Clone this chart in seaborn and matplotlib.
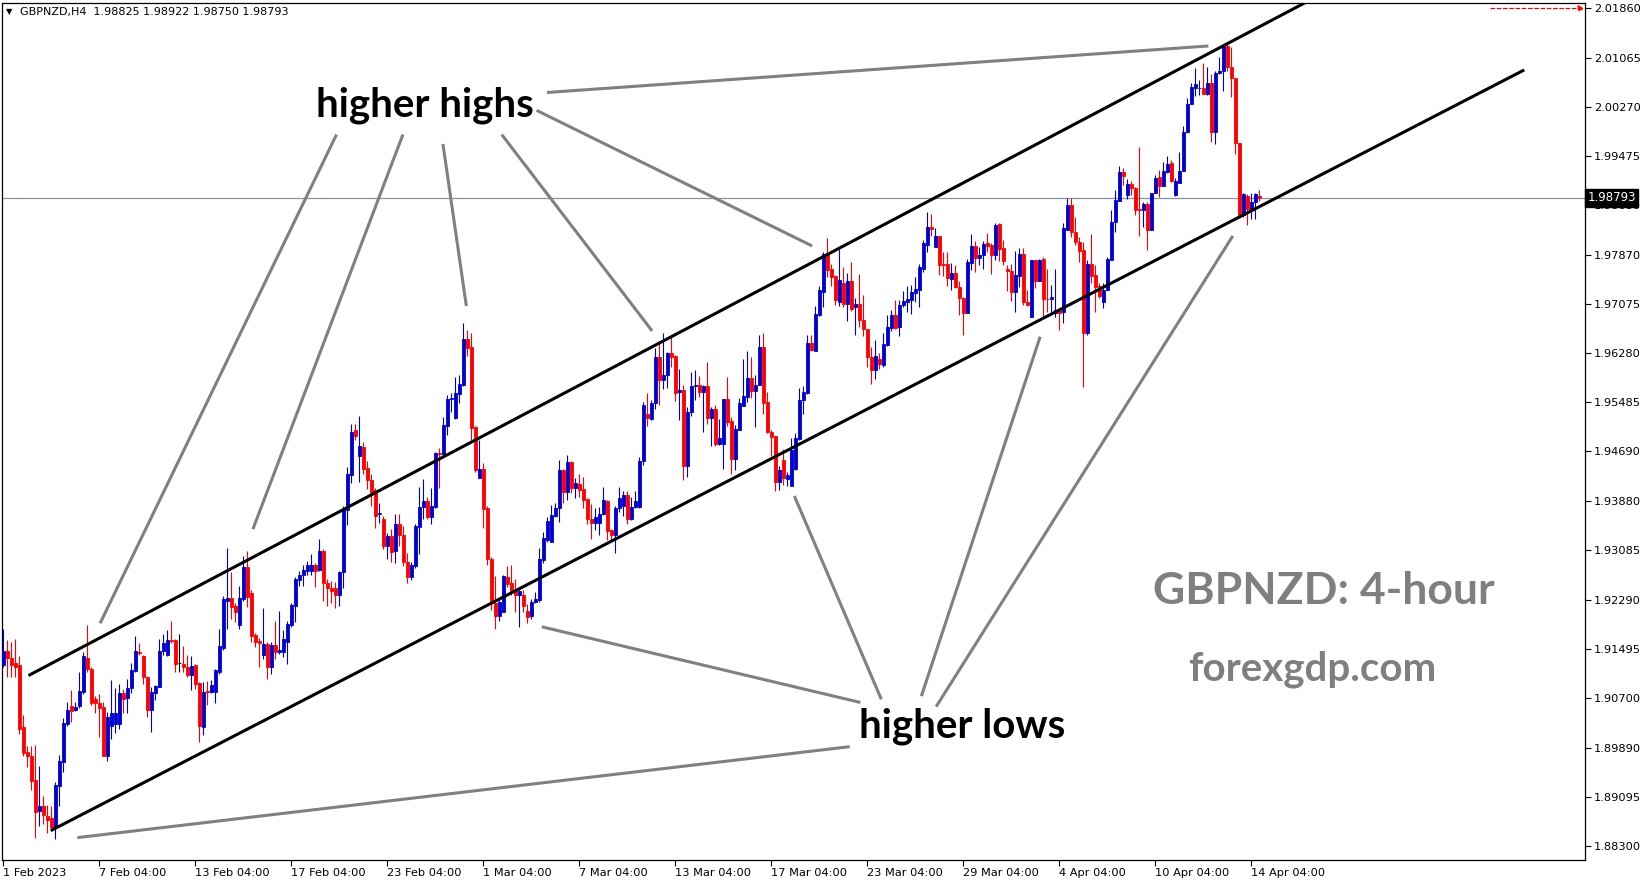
import numpy as np
import pandas as pd
import seaborn as sns
import matplotlib
matplotlib.use("Agg")
import matplotlib.pyplot as plt
import matplotlib.transforms as mtransforms

# ---------- GBPNZD H4 candles (1 Feb 2023 -> 14 Apr 2023) ----------
opens = [
    1.9123, 1.9145, 1.9134, 1.9127, 1.9123, 1.9022, 1.8982, 1.8976, 1.8937, 1.8887,
    1.8895, 1.8878, 1.8875, 1.8861, 1.8927, 1.8966, 1.9027, 1.9057, 1.9050, 1.9056,
    1.9079, 1.9135, 1.9117, 1.9068, 1.9061, 1.9055, 1.8975, 1.9025, 1.9028, 1.9027,
    1.9078, 1.9070, 1.9085, 1.9114, 1.9144, 1.9138, 1.9104, 1.9050, 1.9078, 1.9088,
    1.9145, 1.9139, 1.9164, 1.9163, 1.9126, 1.9125, 1.9120, 1.9107, 1.9123, 1.9094,
    1.9023, 1.9081, 1.9079, 1.9080, 1.9112, 1.9150, 1.9227, 1.9231, 1.9219, 1.9188,
    1.9230, 1.9282, 1.9240, 1.9171, 1.9162, 1.9140, 1.9157, 1.9119, 1.9155, 1.9144,
    1.9144, 1.9161, 1.9188, 1.9218, 1.9261, 1.9268, 1.9276, 1.9276, 1.9285, 1.9277,
    1.9308, 1.9256, 1.9248, 1.9248, 1.9237, 1.9273, 1.9374, 1.9431, 1.9504, 1.9462,
    1.9476, 1.9442, 1.9423, 1.9406, 1.9368, 1.9359, 1.9316, 1.9332, 1.9308, 1.9352,
    1.9334, 1.9289, 1.9266, 1.9284, 1.9347, 1.9379, 1.9389, 1.9362, 1.9379, 1.9466,
    1.9465, 1.9510, 1.9554, 1.9523, 1.9562, 1.9576, 1.9651, 1.9638, 1.9509, 1.9425,
    1.9440, 1.9378, 1.9295, 1.9223, 1.9203, 1.9209, 1.9266, 1.9255, 1.9243, 1.9236,
    1.9236, 1.9210, 1.9202, 1.9225, 1.9228, 1.9293, 1.9325, 1.9322, 1.9365, 1.9377,
    1.9439, 1.9403, 1.9452, 1.9409, 1.9416, 1.9408, 1.9392, 1.9359, 1.9353, 1.9353,
    1.9367, 1.9389, 1.9341, 1.9333, 1.9377, 1.9381, 1.9399, 1.9359, 1.9379, 1.9379,
    1.9454, 1.9529, 1.9522, 1.9547, 1.9622, 1.9584, 1.9592, 1.9628, 1.9623, 1.9565,
    1.9569, 1.9446, 1.9532, 1.9575, 1.9576, 1.9565, 1.9575, 1.9523, 1.9538, 1.9481,
    1.9481, 1.9554, 1.9518, 1.9457, 1.9503, 1.9543, 1.9557, 1.9588, 1.9567, 1.9576,
    1.9638, 1.9549, 1.9500, 1.9493, 1.9420, 1.9455, 1.9424, 1.9413, 1.9440, 1.9489,
    1.9552, 1.9563, 1.9645, 1.9632, 1.9690, 1.9727, 1.9788, 1.9764, 1.9753, 1.9711,
    1.9741, 1.9707, 1.9745, 1.9702, 1.9708, 1.9682, 1.9667, 1.9622, 1.9601, 1.9618,
    1.9608, 1.9641, 1.9669, 1.9690, 1.9671, 1.9706, 1.9711, 1.9714, 1.9726, 1.9730,
    1.9765, 1.9803, 1.9833, 1.9800, 1.9817, 1.9772, 1.9772, 1.9748, 1.9758, 1.9735,
    1.9718, 1.9693, 1.9774, 1.9802, 1.9782, 1.9787, 1.9807, 1.9803, 1.9787, 1.9837,
    1.9798, 1.9765, 1.9761, 1.9727, 1.9753, 1.9788, 1.9710, 1.9687, 1.9778, 1.9744,
    1.9780, 1.9716, 1.9715, 1.9693, 1.9698, 1.9695, 1.9828, 1.9868, 1.9824, 1.9808,
    1.9795, 1.9661, 1.9773, 1.9754, 1.9736, 1.9711, 1.9730, 1.9779, 1.9841, 1.9875,
    1.9922, 1.9884, 1.9902, 1.9895, 1.9862, 1.9860, 1.9869, 1.9827, 1.9887, 1.9913,
    1.9899, 1.9922, 1.9936, 1.9884, 1.9903, 1.9923, 1.9986, 2.0032, 2.0058, 2.0057,
    2.0058, 2.0047, 2.0065, 1.9986, 2.0081, 2.0084, 2.0125, 2.0092, 2.0073, 1.9969,
    1.9852, 1.9883, 1.9862, 1.9873, 1.98825,
]
highs = [
    1.9181, 1.9164, 1.9161, 1.9165, 1.9137, 1.9042, 1.8992, 1.8992, 1.8993, 1.8959,
    1.8911, 1.8897, 1.8895, 1.8934, 1.8978, 1.9038, 1.9063, 1.9083, 1.9063, 1.9112,
    1.9144, 1.9187, 1.9120, 1.9073, 1.9076, 1.9063, 1.9047, 1.9098, 1.9085, 1.9093,
    1.9084, 1.9100, 1.9126, 1.9170, 1.9159, 1.9139, 1.9106, 1.9088, 1.9091, 1.9165,
    1.9173, 1.9179, 1.9195, 1.9165, 1.9173, 1.9154, 1.9139, 1.9138, 1.9124, 1.9096,
    1.9096, 1.9097, 1.9099, 1.9117, 1.9182, 1.9234, 1.9313, 1.9274, 1.9223, 1.9251,
    1.9300, 1.9308, 1.9245, 1.9175, 1.9167, 1.9216, 1.9160, 1.9160, 1.9194, 1.9210,
    1.9180, 1.9195, 1.9224, 1.9266, 1.9275, 1.9285, 1.9291, 1.9302, 1.9288, 1.9327,
    1.9311, 1.9263, 1.9259, 1.9258, 1.9275, 1.9380, 1.9443, 1.9514, 1.9513, 1.9526,
    1.9484, 1.9454, 1.9432, 1.9410, 1.9385, 1.9364, 1.9337, 1.9343, 1.9368, 1.9368,
    1.9348, 1.9304, 1.9289, 1.9352, 1.9411, 1.9424, 1.9395, 1.9409, 1.9468, 1.9474,
    1.9525, 1.9560, 1.9563, 1.9589, 1.9593, 1.9677, 1.9666, 1.9661, 1.9510, 1.9487,
    1.9450, 1.9381, 1.9298, 1.9267, 1.9232, 1.9269, 1.9284, 1.9285, 1.9262, 1.9245,
    1.9245, 1.9221, 1.9230, 1.9241, 1.9313, 1.9338, 1.9363, 1.9382, 1.9386, 1.9455,
    1.9441, 1.9463, 1.9453, 1.9426, 1.9432, 1.9428, 1.9394, 1.9384, 1.9378, 1.9379,
    1.9411, 1.9390, 1.9344, 1.9380, 1.9411, 1.9404, 1.9405, 1.9395, 1.9404, 1.9459,
    1.9549, 1.9564, 1.9552, 1.9637, 1.9647, 1.9661, 1.9630, 1.9657, 1.9625, 1.9602,
    1.9577, 1.9541, 1.9597, 1.9601, 1.9591, 1.9577, 1.9613, 1.9541, 1.9544, 1.9521,
    1.9554, 1.9590, 1.9525, 1.9511, 1.9555, 1.9618, 1.9631, 1.9622, 1.9592, 1.9657,
    1.9660, 1.9565, 1.9503, 1.9494, 1.9445, 1.9472, 1.9435, 1.9491, 1.9498, 1.9571,
    1.9575, 1.9657, 1.9657, 1.9705, 1.9736, 1.9791, 1.9815, 1.9773, 1.9755, 1.9796,
    1.9768, 1.9757, 1.9775, 1.9717, 1.9756, 1.9722, 1.9667, 1.9638, 1.9650, 1.9628,
    1.9661, 1.9690, 1.9698, 1.9714, 1.9714, 1.9729, 1.9736, 1.9738, 1.9751, 1.9772,
    1.9811, 1.9856, 1.9853, 1.9830, 1.9818, 1.9792, 1.9791, 1.9774, 1.9771, 1.9744,
    1.9719, 1.9780, 1.9821, 1.9810, 1.9800, 1.9810, 1.9823, 1.9807, 1.9839, 1.9839,
    1.9811, 1.9771, 1.9773, 1.9794, 1.9798, 1.9798, 1.9730, 1.9779, 1.9779, 1.9781,
    1.9783, 1.9765, 1.9739, 1.9764, 1.9700, 1.9838, 1.9879, 1.9879, 1.9848, 1.9816,
    1.9808, 1.9778, 1.9821, 1.9771, 1.9741, 1.9741, 1.9784, 1.9860, 1.9892, 1.9931,
    1.9927, 1.9910, 1.9906, 1.9897, 1.9962, 1.9872, 1.9873, 1.9888, 1.9916, 1.9924,
    1.9938, 1.9947, 1.9940, 1.9911, 1.9954, 1.9995, 2.0041, 2.0065, 2.0089, 2.0070,
    2.0097, 2.0092, 2.0080, 2.0084, 2.0108, 2.0127, 2.0129, 2.0123, 2.0074, 1.9969,
    1.9888, 1.9886, 1.9887, 1.9888, 1.98922,
]
lows = [
    1.9119, 1.9104, 1.9103, 1.9104, 1.9012, 1.8975, 1.8958, 1.8921, 1.8843, 1.8863,
    1.8865, 1.8851, 1.8856, 1.8841, 1.8895, 1.8949, 1.9025, 1.9031, 1.9049, 1.9053,
    1.9076, 1.9111, 1.9058, 1.9046, 1.9007, 1.8975, 1.8968, 1.9003, 1.9013, 1.9020,
    1.9046, 1.9046, 1.9078, 1.9111, 1.9139, 1.9092, 1.9039, 1.9015, 1.9066, 1.9088,
    1.9139, 1.9137, 1.9158, 1.9111, 1.9111, 1.9112, 1.9103, 1.9083, 1.9084, 1.8999,
    1.9009, 1.9058, 1.9077, 1.9061, 1.9109, 1.9147, 1.9181, 1.9197, 1.9192, 1.9182,
    1.9227, 1.9217, 1.9160, 1.9152, 1.9120, 1.9132, 1.9101, 1.9108, 1.9133, 1.9141,
    1.9136, 1.9125, 1.9185, 1.9192, 1.9251, 1.9251, 1.9269, 1.9269, 1.9250, 1.9276,
    1.9227, 1.9219, 1.9223, 1.9216, 1.9219, 1.9247, 1.9350, 1.9417, 1.9487, 1.9420,
    1.9433, 1.9408, 1.9381, 1.9345, 1.9353, 1.9311, 1.9295, 1.9289, 1.9288, 1.9316,
    1.9284, 1.9256, 1.9261, 1.9280, 1.9303, 1.9359, 1.9360, 1.9352, 1.9378, 1.9409,
    1.9460, 1.9495, 1.9532, 1.9522, 1.9547, 1.9575, 1.9624, 1.9487, 1.9436, 1.9425,
    1.9345, 1.9285, 1.9212, 1.9181, 1.9195, 1.9209, 1.9250, 1.9236, 1.9209, 1.9185,
    1.9209, 1.9191, 1.9197, 1.9223, 1.9225, 1.9288, 1.9322, 1.9322, 1.9363, 1.9355,
    1.9386, 1.9390, 1.9401, 1.9393, 1.9395, 1.9378, 1.9351, 1.9327, 1.9341, 1.9333,
    1.9366, 1.9325, 1.9324, 1.9305, 1.9370, 1.9364, 1.9352, 1.9358, 1.9377, 1.9377,
    1.9447, 1.9510, 1.9520, 1.9537, 1.9544, 1.9570, 1.9571, 1.9606, 1.9550, 1.9520,
    1.9423, 1.9428, 1.9527, 1.9552, 1.9557, 1.9500, 1.9513, 1.9478, 1.9478, 1.9479,
    1.9441, 1.9510, 1.9433, 1.9439, 1.9503, 1.9543, 1.9549, 1.9556, 1.9509, 1.9576,
    1.9530, 1.9498, 1.9462, 1.9405, 1.9407, 1.9414, 1.9413, 1.9413, 1.9439, 1.9487,
    1.9530, 1.9562, 1.9632, 1.9632, 1.9688, 1.9703, 1.9752, 1.9737, 1.9706, 1.9705,
    1.9703, 1.9680, 1.9696, 1.9657, 1.9671, 1.9656, 1.9606, 1.9578, 1.9586, 1.9603,
    1.9606, 1.9640, 1.9664, 1.9667, 1.9655, 1.9703, 1.9695, 1.9691, 1.9710, 1.9703,
    1.9760, 1.9792, 1.9818, 1.9800, 1.9754, 1.9753, 1.9736, 1.9731, 1.9733, 1.9690,
    1.9657, 1.9693, 1.9763, 1.9760, 1.9771, 1.9764, 1.9792, 1.9756, 1.9779, 1.9777,
    1.9771, 1.9729, 1.9713, 1.9695, 1.9735, 1.9706, 1.9704, 1.9687, 1.9733, 1.9744,
    1.9687, 1.9695, 1.9695, 1.9687, 1.9665, 1.9677, 1.9827, 1.9816, 1.9803, 1.9776,
    1.9573, 1.9657, 1.9741, 1.9695, 1.9717, 1.9701, 1.9730, 1.9779, 1.9824, 1.9875,
    1.9900, 1.9878, 1.9884, 1.9852, 1.9818, 1.9833, 1.9795, 1.9827, 1.9887, 1.9881,
    1.9898, 1.9919, 1.9905, 1.9883, 1.9903, 1.9923, 1.9984, 2.0031, 2.0044, 2.0046,
    2.0047, 2.0046, 1.9970, 1.9966, 2.0080, 2.0052, 2.0084, 2.0043, 1.9951, 1.9850,
    1.9849, 1.9836, 1.9845, 1.9845, 1.98750,
]
closes = [
    1.9145, 1.9134, 1.9123, 1.9120, 1.9019, 1.8981, 1.8975, 1.8936, 1.8885, 1.8894,
    1.8880, 1.8872, 1.8860, 1.8929, 1.8968, 1.9029, 1.9050, 1.9049, 1.9055, 1.9081,
    1.9138, 1.9117, 1.9061, 1.9061, 1.9054, 1.8975, 1.9039, 1.9045, 1.9045, 1.9077,
    1.9068, 1.9086, 1.9115, 1.9146, 1.9143, 1.9103, 1.9050, 1.9079, 1.9089, 1.9146,
    1.9159, 1.9164, 1.9162, 1.9125, 1.9126, 1.9119, 1.9107, 1.9121, 1.9092, 1.9025,
    1.9080, 1.9080, 1.9090, 1.9115, 1.9153, 1.9230, 1.9231, 1.9217, 1.9209, 1.9231,
    1.9282, 1.9233, 1.9170, 1.9160, 1.9159, 1.9157, 1.9119, 1.9155, 1.9144, 1.9147,
    1.9165, 1.9189, 1.9220, 1.9262, 1.9269, 1.9277, 1.9285, 1.9285, 1.9276, 1.9308,
    1.9255, 1.9247, 1.9243, 1.9237, 1.9274, 1.9374, 1.9432, 1.9501, 1.9493, 1.9478,
    1.9440, 1.9422, 1.9401, 1.9364, 1.9369, 1.9316, 1.9332, 1.9306, 1.9352, 1.9334,
    1.9290, 1.9266, 1.9285, 1.9348, 1.9379, 1.9389, 1.9363, 1.9380, 1.9466, 1.9465,
    1.9512, 1.9554, 1.9555, 1.9563, 1.9578, 1.9651, 1.9637, 1.9507, 1.9438, 1.9440,
    1.9376, 1.9294, 1.9223, 1.9203, 1.9225, 1.9267, 1.9254, 1.9242, 1.9237, 1.9243,
    1.9219, 1.9201, 1.9225, 1.9230, 1.9294, 1.9329, 1.9356, 1.9366, 1.9378, 1.9438,
    1.9403, 1.9451, 1.9409, 1.9418, 1.9407, 1.9390, 1.9359, 1.9353, 1.9362, 1.9367,
    1.9390, 1.9340, 1.9333, 1.9377, 1.9393, 1.9399, 1.9359, 1.9379, 1.9389, 1.9454,
    1.9544, 1.9523, 1.9548, 1.9622, 1.9584, 1.9592, 1.9628, 1.9621, 1.9564, 1.9569,
    1.9446, 1.9533, 1.9574, 1.9576, 1.9565, 1.9575, 1.9523, 1.9538, 1.9481, 1.9490,
    1.9554, 1.9517, 1.9457, 1.9505, 1.9548, 1.9558, 1.9588, 1.9567, 1.9577, 1.9638,
    1.9548, 1.9500, 1.9492, 1.9420, 1.9438, 1.9425, 1.9430, 1.9471, 1.9490, 1.9552,
    1.9565, 1.9645, 1.9633, 1.9691, 1.9730, 1.9789, 1.9763, 1.9752, 1.9714, 1.9746,
    1.9707, 1.9745, 1.9700, 1.9708, 1.9682, 1.9667, 1.9622, 1.9601, 1.9624, 1.9610,
    1.9643, 1.9671, 1.9690, 1.9669, 1.9706, 1.9713, 1.9715, 1.9727, 1.9732, 1.9767,
    1.9807, 1.9833, 1.9829, 1.9817, 1.9771, 1.9771, 1.9749, 1.9758, 1.9735, 1.9717,
    1.9693, 1.9776, 1.9802, 1.9782, 1.9787, 1.9805, 1.9802, 1.9787, 1.9835, 1.9797,
    1.9777, 1.9761, 1.9727, 1.9754, 1.9788, 1.9710, 1.9706, 1.9779, 1.9745, 1.9779,
    1.9715, 1.9715, 1.9719, 1.9698, 1.9693, 1.9830, 1.9868, 1.9824, 1.9808, 1.9794,
    1.9661, 1.9773, 1.9753, 1.9735, 1.9720, 1.9730, 1.9780, 1.9841, 1.9876, 1.9922,
    1.9915, 1.9902, 1.9895, 1.9860, 1.9860, 1.9869, 1.9827, 1.9888, 1.9911, 1.9899,
    1.9923, 1.9935, 1.9907, 1.9907, 1.9923, 1.9986, 2.0032, 2.0059, 2.0064, 2.0058,
    2.0047, 2.0065, 1.9986, 2.0081, 2.0084, 2.0125, 2.0091, 2.0073, 1.9969, 1.9852,
    1.9885, 1.9862, 1.9873, 1.9885, 1.98793,
]

# ---------- axis labels ----------
x_tick_bars = [0, 24, 48, 72, 96, 120, 144, 168, 192, 216, 240, 264, 288, 312]
x_tick_labels = ["1 Feb 2023", "7 Feb 04:00", "13 Feb 04:00", "17 Feb 04:00",
                 "23 Feb 04:00", "1 Mar 04:00", "7 Mar 04:00", "13 Mar 04:00",
                 "17 Mar 04:00", "23 Mar 04:00", "29 Mar 04:00", "4 Apr 04:00",
                 "10 Apr 04:00", "14 Apr 04:00"]
y_tick_labels = ["2.01860", "2.01065", "2.00270", "1.99475", "1.98680", "1.97870",
                 "1.97075", "1.96280", "1.95485", "1.94690", "1.93880", "1.93085",
                 "1.92290", "1.91495", "1.90700", "1.89890", "1.89095", "1.88300"]
last_price = 1.98793
ohlc_title = "GBPNZD,H4  1.98825 1.98922 1.98750 1.98793"

# ---------- drawn objects (bar index, price) ----------
channel_upper = [(6.3, 1.9106), (325.6, 2.0196)]
channel_lower = [(11.85, 1.88548), (380.2, 2.00865)]
highs_pointers = [
    [(83.3, 1.99819), (24.2, 1.91906)],
    [(99.9, 1.99819), (62.4, 1.93430)],
    [(109.9, 1.99666), (115.75, 1.97044)],
    [(124.6, 1.99819), (162.2, 1.96639)],
    [(133.3, 2.00211), (202.2, 1.98015)],
    [(135.9, 2.00500), (301.25, 2.01253)],
]
lows_pointers = [
    [(211.6, 1.89908), (18.5, 1.88435)],
    [(214.25, 1.90624), (134.6, 1.91849)],
    [(219.5, 1.90674), (197.75, 1.93967)],
    [(229.5, 1.90726), (259.2, 1.96546)],
    [(233.2, 1.90556), (307.35, 1.98177)],
]

df = pd.DataFrame({"open": opens, "high": highs, "low": lows, "close": closes})
df["bar"] = np.arange(len(df))
BLUE, RED = "#0000d0", "#ff0000"
df["color"] = np.where(df.close > df.open, BLUE, np.where(df.close < df.open, RED, "black"))

sns.set_theme(style="white")
plt.rcParams["font.family"] = ["DejaVu Sans"]

W, H = 1649, 884
fig = plt.figure(figsize=(W / 100, H / 100), dpi=100)
fig.patch.set_facecolor("white")
ax = fig.add_axes([2.5 / W, 24 / H, 1582.5 / W, 857.5 / H])
ax.set_facecolor("white")

# wicks + bodies
ax.vlines(df.bar, df.low, df.high, colors=df.color, linewidth=0.8, zorder=3)
body_lo = df[["open", "close"]].min(axis=1)
body_h = (df.close - df.open).abs()
ax.bar(df.bar, body_h, bottom=body_lo, width=0.6, color=df.color,
       edgecolor=df.color, linewidth=0.6, zorder=4)

# current price line
ax.axhline(last_price, color="#8592a0", lw=0.9, zorder=2)

# channel
for seg in (channel_upper, channel_lower):
    xs, ys = zip(*seg)
    ax.plot(xs, ys, color="black", lw=2.2, solid_capstyle="butt", zorder=5)

# pointer lines
for seg in highs_pointers + lows_pointers:
    xs, ys = zip(*seg)
    ax.plot(xs, ys, color="#808080", lw=2.2, solid_capstyle="butt", zorder=5)

# annotation texts
txt_font = ["Lato", "DejaVu Sans"]
ax.text(105.4, 2.0029, "higher highs", fontsize=29, fontweight="bold",
        family=txt_font, ha="center", va="center", color="black", zorder=6)
ax.text(239.75, 1.9024, "higher lows", fontsize=29, fontweight="bold",
        family=txt_font, ha="center", va="center", color="black", zorder=6)
ax.text(330.0, 1.9243, "GBPNZD: 4-hour", fontsize=32, fontweight="bold",
        family=txt_font, ha="center", va="center", color="#7f7f7f", zorder=6)
ax.text(327.3, 1.9116, "forexgdp.com", fontsize=29, fontweight="bold",
        family=txt_font, ha="center", va="center", color="#7f7f7f", zorder=6)

# red dashed arrow at the top level
ax.annotate("", xy=(395.3, 2.0186), xytext=(371.9, 2.0186),
            arrowprops=dict(arrowstyle="-|>", color="red", lw=0.9, linestyle=(0, (3, 2)),
                            mutation_scale=9, shrinkA=0, shrinkB=0), zorder=6)

ax.set_xlim(-0.2, 395.4)
ax.set_ylim(1.88073, 2.01957)

# axes styling
ax.grid(False)
for sp in ax.spines.values():
    sp.set_color("black")
    sp.set_linewidth(0.9)
ax.yaxis.tick_right()
ax.set_yticks([float(v) for v in y_tick_labels], labels=y_tick_labels)
ax.set_xticks(x_tick_bars, labels=x_tick_labels)
ax.tick_params(axis="y", which="both", direction="out", length=4, width=0.8,
               labelsize=8.2, pad=2.5, colors="black", right=True, left=False)
ax.tick_params(axis="x", which="both", direction="out", length=4, width=0.8,
               labelsize=8.2, pad=1.5, colors="black", bottom=True)
for lbl in ax.get_xticklabels():
    lbl.set_horizontalalignment("left")

# last price box on the right scale
trans = mtransforms.blended_transform_factory(ax.transAxes, ax.transData)
ax.text(1.0016, last_price, "1.98793", transform=trans, fontsize=8.5, color="white",
        va="center", ha="left", zorder=10,
        bbox=dict(boxstyle="square,pad=0.2", facecolor="black", edgecolor="black"))

# header
fig.text(6 / W, 1 - 12 / H, "▼", fontsize=6, va="center", ha="left", color="black")
fig.text(20 / W, 1 - 12 / H, ohlc_title, fontsize=8, va="center", ha="left", color="black")

fig.savefig("out.png", dpi=100, facecolor="white")
